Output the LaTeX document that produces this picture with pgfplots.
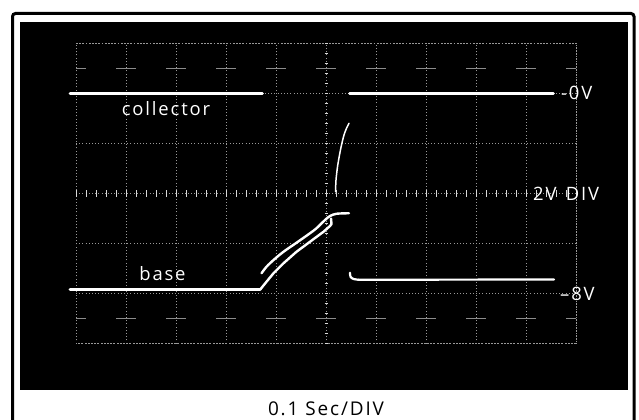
\documentclass[border=0pt]{standalone}
\usepackage{pgfplots}
\pgfplotsset{compat=1.18}
\usepackage{fontspec}
\setmainfont{Open Sans}[LetterSpace=10]
\begin{document}
\begin{tikzpicture}[x=1bp,y=1bp,
  trace/.style={white, line width=2.6bp, line cap=round, line join=round},
  lbl/.style={white, inner sep=0pt, font=\fontsize{18.5}{22}\selectfont}]
\useasboundingbox (0,0) rectangle (639,419);
\fill[white] (0,0) rectangle (639,419);
\draw[line width=3bp, rounded corners=3bp] (12.5,-5) -- (12.5,405.5) -- (634,405.5) -- (634,-5);
\fill[black] (20,29) rectangle (628.3,397.3);
\node[anchor=base, inner sep=0pt, font=\fontsize{19}{22}\selectfont] at (326,4) {0.1 Sec/DIV};
\begin{axis}[
  at={(76bp,75.5bp)}, anchor=south west,
  scale only axis, width=500bp, height=300bp,
  xmin=0, xmax=10, ymin=-10, ymax=2,
  xtick={0,...,10}, ytick={-10,-8,...,2},
  xticklabels={}, yticklabels={},
  major tick length=0pt,
  grid=major,
  major grid style={white!60!black, line width=0.5bp, dash pattern=on 1bp off 2.2bp},
  axis line style={white!60!black, line width=0.5bp, dash pattern=on 1bp off 2.2bp},
  clip=false,
]
% half-division dashes near the grid lines
\draw[white!55!black, line width=0.5bp, dash pattern=on 10bp off 30bp on 10bp off 0.01bp] (axis cs:0,1) -- (axis cs:10,1);
\draw[white!55!black, line width=0.5bp, dash pattern=on 10bp off 30bp on 10bp off 0.01bp] (axis cs:0,-9) -- (axis cs:10,-9);
% minor ticks on centre lines
\pgfplotsinvokeforeach{0,0.2,...,10}{
  \draw[white!85!black, line width=0.7bp] (axis cs:#1,-4.13) -- (axis cs:#1,-3.87);
}
\pgfplotsinvokeforeach{-10,-9.6,...,2}{
  \draw[white!85!black, line width=0.9bp] (axis cs:4.97,#1) -- (axis cs:5.03,#1);
}
% collector trace
\addplot[trace] coordinates {(-0.12,0) (3.73,0)};
\addplot[trace] coordinates {(5.47,0) (9.55,0)};
\addplot[trace, line width=1.5bp, smooth] coordinates {
  (5.19,-3.93) (5.20,-3.46) (5.23,-2.93) (5.27,-2.46) (5.31,-2.06)
  (5.36,-1.66) (5.41,-1.39) (5.46,-1.19)};
% base trace
\addplot[trace, line width=3bp] coordinates {(-0.12,-7.85) (3.68,-7.85)};
\addplot[trace, line width=2.4bp] coordinates {
  (3.68,-7.85) (3.81,-7.53) (3.95,-7.19) (4.15,-6.79) (4.41,-6.33)
  (4.68,-5.93) (4.95,-5.53) (5.08,-5.30) (5.11,-5.22) (5.10,-5.0)};
\addplot[trace, line width=2.4bp, smooth] coordinates {
  (3.71,-7.19) (3.81,-6.93) (3.95,-6.66) (4.15,-6.33) (4.41,-5.97)
  (4.68,-5.59) (4.81,-5.39) (4.98,-5.06) (5.08,-4.90) (5.21,-4.81) (5.46,-4.79)};
\addplot[trace, line width=2.2bp, smooth] coordinates {
  (5.48,-7.17) (5.49,-7.33) (5.55,-7.42) (5.65,-7.45)};
\addplot[trace, line width=2.2bp] coordinates {(5.65,-7.45) (9.56,-7.44)};
% labels
\node[lbl, anchor=base] at (axis cs:1.80,-0.90) {collector};
\node[lbl, anchor=base] at (axis cs:1.73,-7.46) {base};
\node[lbl, anchor=base west] at (axis cs:9.70,-0.26) {-0V};
\node[lbl, anchor=base west] at (axis cs:9.14,-4.26) {2V\hspace{0.5em}DIV};
\node[lbl, anchor=base west] at (axis cs:9.68,-8.29) {\textendash8V};
\end{axis}
\end{tikzpicture}
\end{document}
